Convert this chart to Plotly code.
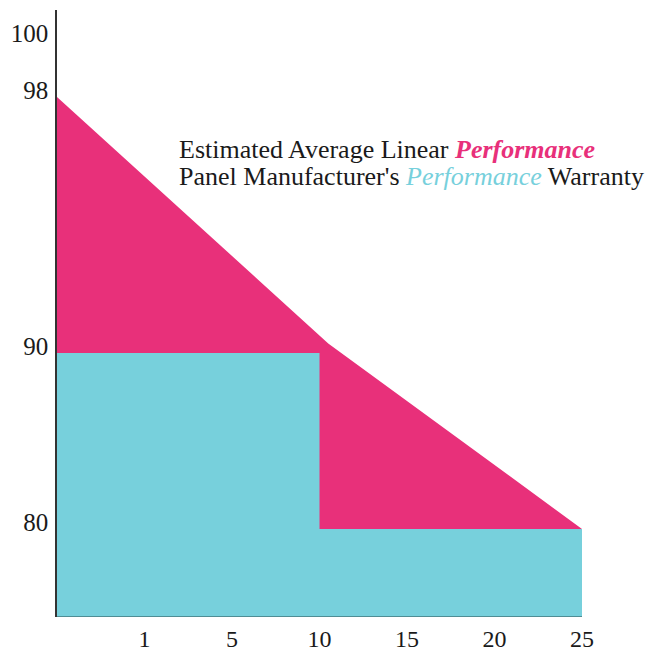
import numpy as np
import plotly.graph_objects as go

# ---- data ----
year_ticks = [1, 5, 10, 15, 20, 25]
perf_ticks = [80, 90, 98, 100]

expected_years = [0, 10.5, 25]
expected_perf = [98, 90.3, 80]

warranty_years = [0, 10, 10, 25]
warranty_perf = [90, 90, 80, 80]

baseline_perf = 75

# ---- display scales (the original uses uneven axis spacing) ----
X_VALUES = [0, 1, 5, 10, 15, 20, 25]
X_POS = [0, 1, 2, 3, 4, 5, 6]
Y_VALUES = [75, 80, 90, 98, 100]
Y_POS = [0, 88, 264, 520, 577]


def sx(v):
    return list(np.interp(v, X_VALUES, X_POS))


def sy(v):
    return list(np.interp(v, Y_VALUES, Y_POS))


PINK = "#E8307A"
CYAN = "#77D0DC"
FONT = "Liberation Serif"

fig = go.Figure()

# expected performance (pink) area down to baseline
px = expected_years + [expected_years[-1], expected_years[0]]
py = expected_perf + [baseline_perf, baseline_perf]
fig.add_trace(go.Scatter(x=sx(px), y=sy(py), fill="toself", fillcolor=PINK,
                         mode="lines", line=dict(width=0, color=PINK),
                         hoverinfo="skip", showlegend=False))

# warranty (cyan) step area
wx = warranty_years + [warranty_years[-1], warranty_years[0]]
wy = warranty_perf + [baseline_perf, baseline_perf]
fig.add_trace(go.Scatter(x=sx(wx), y=sy(wy), fill="toself", fillcolor=CYAN,
                         mode="lines", line=dict(width=0, color=CYAN),
                         hoverinfo="skip", showlegend=False))

# darker bottom edge of the area
fig.add_trace(go.Scatter(x=sx([warranty_years[0], warranty_years[-1]]),
                         y=sy([baseline_perf, baseline_perf]),
                         mode="lines", line=dict(width=2, color="#4F8D94"),
                         hoverinfo="skip", showlegend=False))

OFF = 8  # page body margin
W, H = 660 - OFF, 651 - OFF
ML, MR, MT, MB = 57 - OFF, 0, 10 - OFF, H - (617 - OFF)
plot_w = W - ML - MR
plot_h = H - MT - MB
px_per_x = 87.5

fig.update_layout(
    width=W, height=H,
    margin=dict(l=ML, r=MR, t=MT, b=MB),
    plot_bgcolor="white", paper_bgcolor="white",
    font=dict(family=FONT, size=24, color="#1a1a1a"),
    xaxis=dict(range=[0, plot_w / px_per_x], showgrid=False, zeroline=False,
               showline=False, ticks="", tickvals=sx(year_ticks),
               ticktext=[str(t) for t in year_ticks], ticklabelstandoff=5,
               tickfont=dict(size=24), fixedrange=True),
    yaxis=dict(range=[0, plot_h], showgrid=False, zeroline=False,
               showline=True, linecolor="#333333", linewidth=1.5,
               ticks="", tickvals=sy(perf_ticks),
               ticktext=[str(t) for t in perf_ticks], ticklabelshift=-7,
               ticklabelstandoff=2, tickfont=dict(size=25), fixedrange=True),
)


def ax(page_x):
    return (page_x - 57) / px_per_x


def ay(page_y):
    return 617 - page_y


fig.add_annotation(
    x=ax(177), y=ay(149), xref="x", yref="y",
    xanchor="left", yanchor="middle", showarrow=False,
    text="Estimated Average Linear "
         f"<b><i><span style='color:{PINK}'>Performance</span></i></b>",
    font=dict(family=FONT, size=26, color="#1a1a1a"))
fig.add_annotation(
    x=ax(177), y=ay(176), xref="x", yref="y",
    xanchor="left", yanchor="middle", showarrow=False,
    text="Panel Manufacturer's "
         f"<i><span style='color:{CYAN}'>Performance</span></i> Warranty",
    font=dict(family=FONT, size=26, color="#1a1a1a"))

fig.write_html("out.html")
